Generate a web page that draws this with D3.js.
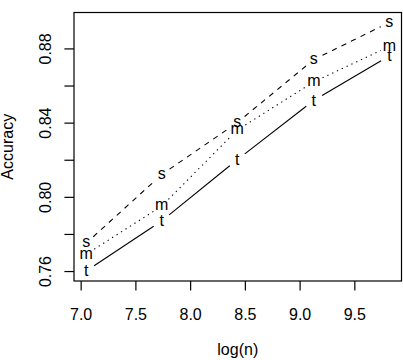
<!DOCTYPE html>
<html>
<head>
<meta charset="utf-8">
<script src="https://cdn.jsdelivr.net/npm/d3@7"></script>
<style>
  body { margin: 0; background: #fff; }
  svg { display: block; font-family: "Liberation Sans", Arial, Helvetica, sans-serif; }
</style>
</head>
<body>
<svg id="chart"></svg>
<script>
// values
const logN = [7.05, 7.74, 8.43, 9.13, 9.82];
const accS = [0.775, 0.812, 0.840, 0.874, 0.894];
const accM = [0.769, 0.795, 0.836, 0.862, 0.881];
const accT = [0.760, 0.787, 0.820, 0.852, 0.876];
const seriesNames = ["s", "m", "t"];
const xTicks = [7.0, 7.5, 8.0, 8.5, 9.0, 9.5];
const yTicks = [0.76, 0.78, 0.80, 0.82, 0.84, 0.86, 0.88];
const yTickLabels = ["0.76", "", "0.80", "", "0.84", "", "0.88"];

function drawChart(svgSelector, width, height) {
    const svg = d3.select(svgSelector)
        .attr("width", width)
        .attr("height", height);

    const fs = 16;
    const box = { left: 74, right: 401.5, top: 12.5, bottom: 281 };

    const series = [
        { name: seriesNames[0], values: accS, dash: "5.3,5.3" },
        { name: seriesNames[1], values: accM, dash: "1.3,4" },
        { name: seriesNames[2], values: accT, dash: null }
    ];

    // R style: pad the data range by 4% on each side
    const xExt = d3.extent(logN);
    const xPad = (xExt[1] - xExt[0]) * 0.04;
    const allY = accS.concat(accM, accT);
    const yExt = d3.extent(allY);
    const yPad = (yExt[1] - yExt[0]) * 0.04;

    const x = d3.scaleLinear()
        .domain([xExt[0] - xPad, xExt[1] + xPad])
        .range([box.left, box.right]);
    const y = d3.scaleLinear()
        .domain([yExt[0] - yPad, yExt[1] + yPad])
        .range([box.bottom, box.top]);

    // x axis
    const gx = svg.append("g")
        .attr("transform", `translate(0,${box.bottom})`)
        .call(d3.axisBottom(x).tickValues(xTicks).tickSize(9.6).tickFormat(d3.format(".1f")));
    gx.select(".domain").remove();
    gx.selectAll("line").attr("stroke", "#000").attr("stroke-width", 1.2);
    gx.selectAll("text")
        .attr("y", 39).attr("dy", null)
        .attr("font-size", fs).attr("font-family", null).attr("fill", "#000");

    // y axis
    const gy = svg.append("g")
        .attr("transform", `translate(${box.left},0)`)
        .call(d3.axisLeft(y).tickValues(yTicks).tickSize(9.6)
            .tickFormat((d, i) => yTickLabels[i]));
    gy.select(".domain").remove();
    gy.selectAll("line").attr("stroke", "#000").attr("stroke-width", 1.2);
    gy.selectAll("text")
        .attr("x", null).attr("dy", null)
        .attr("text-anchor", "middle")
        .attr("transform", "translate(-23,0) rotate(-90)")
        .attr("font-size", fs).attr("font-family", null).attr("fill", "#000");

    // box
    svg.append("rect")
        .attr("x", box.left).attr("y", box.top)
        .attr("width", box.right - box.left).attr("height", box.bottom - box.top)
        .attr("fill", "none").attr("stroke", "#000").attr("stroke-width", 1.2);

    // axis titles
    svg.append("text")
        .attr("x", (box.left + box.right) / 2).attr("y", 355)
        .attr("text-anchor", "middle").attr("font-size", fs)
        .text("log(n)");
    svg.append("text")
        .attr("transform", `translate(13,${(box.top + box.bottom) / 2}) rotate(-90)`)
        .attr("text-anchor", "middle").attr("font-size", fs)
        .text("Accuracy");

    // type = "b": segments with a gap round each letter
    const gap = 9.6;
    const centerShift = { s: 0.26 * fs, m: 0.26 * fs, t: 0.33 * fs };

    series.forEach(s => {
        const pts = logN.map((v, i) => [x(v), y(s.values[i])]);
        for (let i = 0; i < pts.length - 1; i++) {
            const [x0, y0] = pts[i];
            const [x1, y1] = pts[i + 1];
            const dx = x1 - x0, dy = y1 - y0;
            const len = Math.sqrt(dx * dx + dy * dy);
            if (len <= 2 * gap) continue;
            const f = gap / len;
            svg.append("line")
                .attr("x1", x0 + f * dx).attr("y1", y0 + f * dy)
                .attr("x2", x1 - f * dx).attr("y2", y1 - f * dy)
                .attr("stroke", "#000")
                .attr("stroke-width", 1.1)
                .attr("stroke-dasharray", s.dash);
        }
        svg.selectAll(null)
            .data(pts)
            .enter().append("text")
            .attr("x", d => d[0])
            .attr("y", d => d[1] + centerShift[s.name])
            .attr("text-anchor", "middle")
            .attr("font-size", fs)
            .text(s.name);
    });
}

drawChart("#chart", 403, 360);
</script>
</body>
</html>
